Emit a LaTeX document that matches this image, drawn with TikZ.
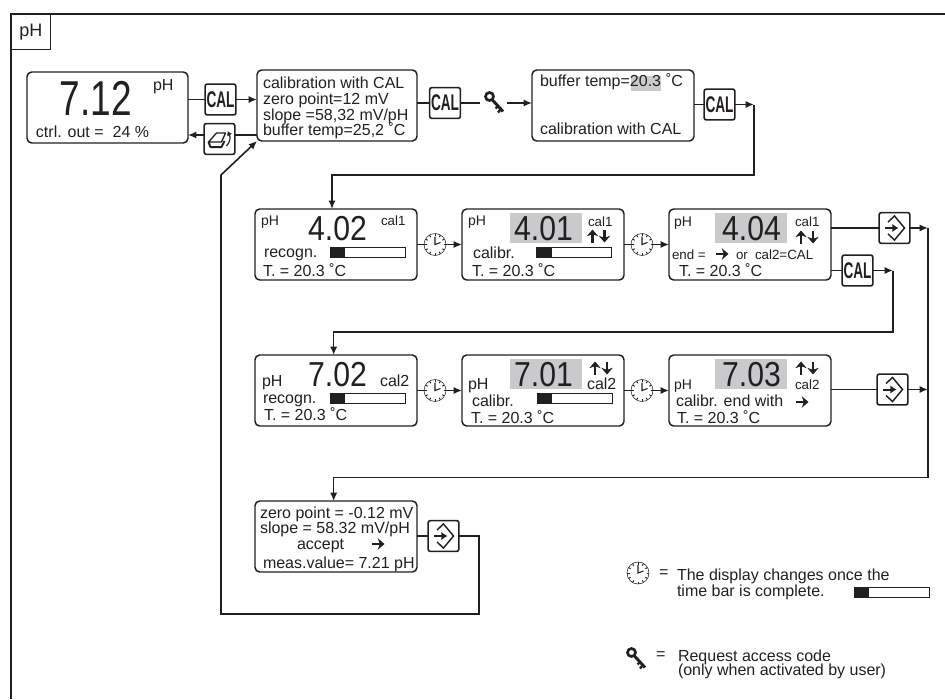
\documentclass[tikz,border=0pt]{standalone}
\usepackage{fontspec}
\setmainfont{Liberation Sans}
\usepackage{xcolor}
\usetikzlibrary{arrows.meta,positioning}
\definecolor{hlgray}{HTML}{C9CACC}
\definecolor{inkblack}{HTML}{231F20}
\newcommand{\valtxt}[1]{\scalebox{.87}[1]{#1}}

\begin{document}
\begin{tikzpicture}[
    x=.75pt, y=-.75pt,
    color=inkblack,
    node distance=33.75pt and 33.75pt,
    line/.style={line width=1.2pt},
    arrow/.style={-{Latex[length=2.2mm,width=1.9mm]}, line width=1.2pt},
    heavy/.style={-{Stealth[length=5pt,width=8.5pt,inset=1.5pt]}, line width=2pt},
    dispbox/.style={draw, line width=1.1pt, rounded corners=3.5pt, minimum width=121.5pt, minimum height=53.25pt, inner sep=0pt, outer sep=0pt},
    btn/.style={draw, line width=1.2pt, rounded corners=1.5pt, minimum width=23pt, minimum height=23pt, inner sep=0pt, outer sep=0pt},
    calbtn/.style={btn, font=\fontsize{17}{17}\selectfont\bfseries},
    enterbtn/.style={btn, path picture={
      \begin{scope}[sharp corners, shift={(path picture bounding box.center)}]
        \draw[line width=1.1pt] (-6.5,-6) -- (0,-12) -- (10,0) -- (0,12) -- (-6.5,6);
        \draw[-{Latex[length=1.6mm,width=2.2mm]}, line width=1.5pt] (-10,0) -- (4,0);
      \end{scope}}},
    menubtn/.style={btn, path picture={
      \begin{scope}[sharp corners, shift={(path picture bounding box.center)}]
        \draw[line width=1pt, line join=round] (-3,-6) -- (6,-6) -- (2,3) -- (-11,3) -- cycle;
        \draw[line width=1.5pt, line join=round] (-11,3) -- (-9,8) -- (2,8) -- (5,2);
        \draw[-{Latex[length=1.2mm,width=1.5mm]}, line width=.9pt] (7,7) .. controls (11,3) and (11,-2) .. (8,-8);
      \end{scope}}},
    clock/.style={circle, draw, line width=.4pt, fill=white, minimum size=16.5pt, inner sep=0pt, outer sep=0pt, path picture={
      \begin{scope}[shift={(path picture bounding box.center)}]
        \foreach \a in {0,30,...,330} \draw[line width=.7pt] (\a:8.5) -- (\a:11);
        \draw[line width=.8pt] (0,-8) -- (0,0) -- (5.5,-2);
      \end{scope}}},
    keyicon/.style={minimum size=20.25pt, inner sep=0pt, outer sep=0pt, path picture={
      \begin{scope}[shift={(path picture bounding box.center)}]
        \draw[line width=2pt] (-4,-6.5) circle (4);
        \draw[line width=2.2pt] (-1.5,-3.5) -- (9.5,8.5);
        \draw[line width=1.8pt] (4.5,3) -- (2,5.5) (7.5,6) -- (4.5,9.5);
      \end{scope}}},
    tbar/.style={draw, line width=.5pt, minimum width=56.25pt, minimum height=7.5pt, inner sep=0pt, outer sep=0pt, path picture={
      \fill (path picture bounding box.north west) rectangle ++(15,10);}},
    hl/.style={fill=hlgray, minimum width=54pt, minimum height=22.5pt, inner sep=0pt, outer sep=0pt},
    val/.style={anchor=base, inner sep=0pt, outer sep=0pt, font=\fontsize{26}{26}\selectfont},
    lbl/.style={anchor=base west, inner sep=0pt, outer sep=0pt, font=\fontsize{12}{12}\selectfont},
    lblsm/.style={lbl, font=\fontsize{10.5}{10.5}\selectfont},
    lblxs/.style={lbl, font=\fontsize{10}{10}\selectfont},
    updown/.style={minimum width=18pt, minimum height=11pt, inner sep=0pt, outer sep=0pt, path picture={
      \begin{scope}[shift={(path picture bounding box.center)}]
        \draw[heavy] (-6,6.5) -- (-6,-6.5);
        \draw[heavy] (6,-6.5) -- (6,6.5);
      \end{scope}}},
    rightsym/.style={minimum width=11pt, minimum height=11pt, inner sep=0pt, outer sep=0pt, path picture={
      \begin{scope}[shift={(path picture bounding box.center)}]
        \draw[heavy] (-6.5,0) -- (6.5,0);
      \end{scope}}}
  ]
    \useasboundingbox (0,0) rectangle (945,699);
    % frame
    \coordinate (frtr) at (945,14);
    \coordinate (frtl) at (11,14);
    \coordinate (frbl) at (11,699);
    \draw[line] (frtr) -- (frtl) -- (frbl);
    \node[draw, line width=.6pt, anchor=north west, minimum width=29.25pt, minimum height=26.25pt, inner sep=0pt, font=\fontsize{13.5}{13.5}\selectfont] (tab) at (11,14) {pH};

    % top row
    \node[dispbox, minimum width=120.75pt] (main) at (107.5,107.5) {};
    \node[dispbox, minimum width=120pt] (info) at (337,105.5) {};
    \node[dispbox] (buf) at (613,105.5) {};
    \node[calbtn] (cala) at (220.5,99.5) {\scalebox{.6}[1]{CAL}};
    \node[menubtn] (menu) at (219.5,139) {};
    \node[calbtn] (calb) at (445,103) {\scalebox{.6}[1]{CAL}};
    \node[keyicon] (keya) at (493.5,103) {};
    \node[calbtn] (calc) at (719.5,104.5) {\scalebox{.6}[1]{CAL}};
    \coordinate (mnr) at (235,135);
    \coordinate (mnl) at (205,135);
    \coordinate (ca) at (754,104.5);
    \coordinate (cb) at (754,175);

    \node[val, font=\fontsize{36.75}{36.75}\selectfont] (v712) at (96,115) {\scalebox{.755}[1]{7.12}};
    \node[lbl] (tmph) at (153,90) {pH};
    \node[lbl] (tmctrl) at (36,137) {ctrl. out =\ \ 24 \%};
    \node[lbl] (tia) at (263,89) {calibration with CAL};
    \node[lbl] (tib) at (263,104.5) {zero point=12 mV};
    \node[lbl] (tic) at (263,120) {slope =58,32 mV/pH};
    \node[lbl] (tid) at (263,135.5) {buffer temp=25,2 ˚C};
    \node[hl, minimum width=22.5pt, minimum height=11.25pt] (gbuf) at (646,83.5) {};
    \node[lbl] (tba) at (540,87) {buffer temp=20.3};
    \node[lbl] (tbb) at (666,87) {˚C};
    \node[lbl] (tbc) at (540,134) {calibration with CAL};

    \draw[line] (cala -| main.east) -- (cala);
    \draw[arrow] (cala) -- (cala -| info.west);
    \draw[line] (info.west |- mnr) -- (mnr);
    \draw[arrow] (mnl) -- (mnl -| main.east);
    \draw[line] (calb -| info.east) -- (calb);
    \draw[line] (calb) -- (keya);
    \draw[arrow] (keya) -- (keya -| buf.west);
    \draw[line] (calc -| buf.east) -- (calc);
    \draw[arrow] (calc) -- (ca);

    % first calibration row
    \node[dispbox] (aa) at (336,244.5) {};
    \node[dispbox, right=of aa] (ab) {};
    \node[dispbox, right=of ab] (ac) {};
    \node[clock, right=5.25pt of aa] (cka) {};
    \node[clock, right=5.25pt of ab] (ckb) {};
    \node[enterbtn] (enta) at (894.5,228) {};
    \node[calbtn] (cald) at (857.5,270.5) {\scalebox{.6}[1]{CAL}};
    \coordinate (cc) at (893,270.5);
    \coordinate (cd) at (893,332);
    \coordinate (ce) at (928,228);
    \coordinate (cf) at (928,477.5);

    \node[lblsm] (taa) at (261,225) {pH};
    \node[val] (v402) at (337.5,240) {\valtxt{4.02}};
    \node[lblxs] (tab1) at (381,225) {cal1};
    \node[lbl] (tac) at (264,257) {recogn.};
    \node[tbar] (bara) at (367.5,252) {};
    \node[lbl] (tad) at (263,276) {T. = 20.3 ˚C};

    \node[lblsm] (tba1) at (468,225) {pH};
    \node[hl] (g401) at (546,228) {};
    \node[val] (v401) at (543.5,240) {\valtxt{4.01}};
    \node[lblxs] (tbb1) at (588,226) {cal1};
    \node[updown] (uda) at (598.5,236) {};
    \node[lbl] (tbc1) at (473,258) {calibr.};
    \node[tbar] (barb) at (574,252) {};
    \node[lbl] (tbd1) at (472,276.5) {T. = 20.3 ˚C};

    \node[lblsm] (tca) at (674,226) {pH};
    \node[hl] (g404) at (751,228) {};
    \node[val] (v404) at (751.5,240) {\valtxt{4.04}};
    \node[lblxs] (tcb) at (795,226) {cal1};
    \node[updown] (udb) at (807,237) {};
    \node[lblxs] (tcc) at (672,259) {end =};
    \node[rightsym] (ra) at (722,254) {};
    \node[lblxs] (tcd) at (736,259) {or};
    \node[lblxs] (tce) at (755,259) {cal2=CAL};
    \node[lbl] (tcf) at (679,276.5) {T. = 20.3 ˚C};

    \draw[arrow] (ca) -- (cb) -| ([xshift=-3pt]aa.north);
    \draw[line] (aa.east |- cka) -- (cka);
    \draw[arrow] (cka) -- (cka -| ab.west);
    \draw[line] (ab.east |- ckb) -- (ckb);
    \draw[arrow] (ckb) -- (ckb -| ac.west);
    \draw[line] (enta -| ac.east) -- (enta);
    \draw[arrow] (enta) -- (ce);
    \draw[line] (cald -| ac.east) -- (cald);
    \draw[arrow] (cald) -- (cc);

    % second calibration row
    \node[dispbox, below=56.25pt of aa] (ba) {};
    \node[dispbox, right=of ba] (bb) {};
    \node[dispbox, right=of bb] (bc) {};
    \node[clock, right=5.25pt of ba] (ckc) {};
    \node[clock, right=5.25pt of bb] (ckd) {};
    \node[enterbtn] (entb) at (892.5,389.5) {};
    \coordinate (cg) at (928,389.5);

    \node[lbl] (uaa) at (262,386) {pH};
    \node[val] (v702) at (337.5,386) {\valtxt{7.02}};
    \node[lbl] (uab) at (380,386) {cal2};
    \node[lbl] (uac) at (263,403) {recogn.};
    \node[tbar] (barc) at (367.5,398) {};
    \node[lbl] (uad) at (264,420) {T. = 20.3 ˚C};

    \node[lbl] (uba) at (468,389) {pH};
    \node[hl] (g701) at (546,374) {};
    \node[val] (v701) at (543.5,386) {\valtxt{7.01}};
    \node[updown] (udc) at (601,368) {};
    \node[lbl] (ubb) at (587,389) {cal2};
    \node[lbl] (ubc) at (472,406) {calibr.};
    \node[tbar] (bard) at (574.5,398) {};
    \node[lbl] (ubd) at (471,423) {T. = 20.3 ˚C};

    \node[lblsm] (uca) at (674,389) {pH};
    \node[hl] (g703) at (751,374) {};
    \node[val] (v703) at (751.5,386) {\valtxt{7.03}};
    \node[updown] (udd) at (807,368) {};
    \node[lblxs] (ucb) at (795,389) {cal2};
    \node[lbl] (ucc) at (676,406) {calibr. end with};
    \node[rightsym] (rb) at (802,402) {};
    \node[lbl] (ucd) at (677,423) {T. = 20.3 ˚C};

    \draw[arrow] (cc) -- (cd) -| ([xshift=-1.75pt]ba.north);
    \draw[line] (ba.east |- ckc) -- (ckc);
    \draw[arrow] (ckc) -- (ckc -| bb.west);
    \draw[line] (bb.east |- ckd) -- (ckd);
    \draw[arrow] (ckd) -- (ckd -| bc.west);
    \draw[line] (entb -| bc.east) -- (entb);
    \draw[arrow] (entb) -- (cg);
    \draw[line] (ce) -- (cf);

    % result
    \node[dispbox] (res) at (336,536.5) {};
    \node[enterbtn] (entc) at (443.5,536) {};
    \coordinate (ch) at (479,536);
    \coordinate (ci) at (479,614);
    \coordinate (cj) at (221,614);
    \coordinate (ck) at (221,175);
    \node[lbl] (vaa) at (260,518) {zero point = -0.12 mV};
    \node[lbl] (vab) at (260,533) {slope = 58.32 mV/pH};
    \node[lbl] (vac) at (297,549) {accept};
    \node[rightsym] (rc) at (378,544) {};
    \node[lbl] (vad) at (263,568) {meas.value= 7.21 pH};

    \draw[arrow] (cf) -| ([xshift=-1.75pt]res.north);
    \draw[line] (entc -| res.east) -- (entc);
    \draw[arrow] (entc) -- (ch) -- (ci) -- (cj) -- (ck) -- (info.south west);

    % legend
    \node[clock] (ckl) at (638,573) {};
    \node[lbl] (lga) at (659,577) {=};
    \node[lbl] (lgb) at (677,580) {The display changes once the};
    \node[lbl] (lgc) at (677,596) {time bar is complete.};
    \node[tbar] (barl) at (891.5,592) {};
    \node[keyicon] (keyl) at (635.5,659) {};
    \node[lbl] (lgd) at (656,659) {=};
    \node[lbl] (lge) at (678,661) {Request access code};
    \node[lbl] (lgf) at (678,675) {(only when activated by user)};
  \end{tikzpicture}
\end{document}
